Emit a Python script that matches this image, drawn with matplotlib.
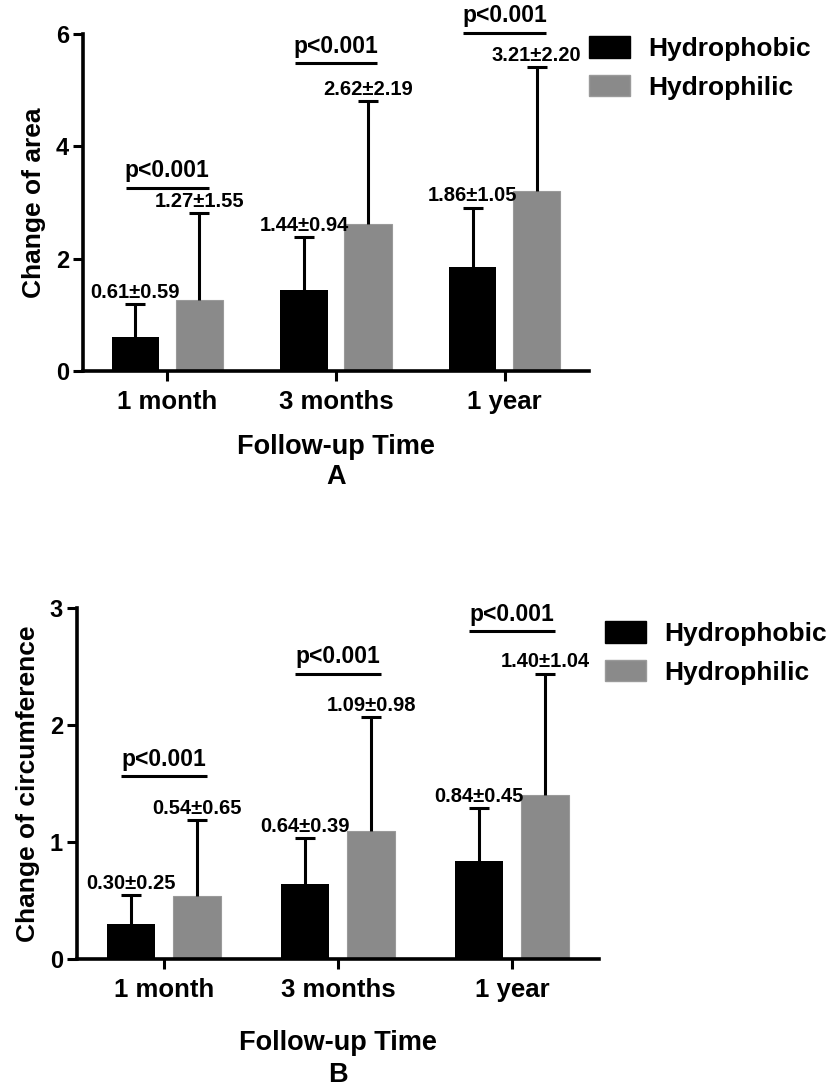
import matplotlib
matplotlib.use("Agg")
import matplotlib.pyplot as plt
from matplotlib.patches import Patch
import numpy as np

plt.rcParams['font.family'] = ['Liberation Sans', 'DejaVu Sans']
plt.rcParams['font.weight'] = 'bold'

categories = ["1 month", "3 months", "1 year"]
series_names = ["Hydrophobic", "Hydrophilic"]

area_phobic_mean = [0.61, 1.44, 1.86]
area_phobic_sd = [0.59, 0.94, 1.05]
area_philic_mean = [1.27, 2.62, 3.21]
area_philic_sd = [1.55, 2.19, 2.20]
area_p_text = ["p<0.001", "p<0.001", "p<0.001"]
area_p_level = [3.26, 5.48, 6.02]
area_yticks = [0, 2, 4, 6]

circ_phobic_mean = [0.30, 0.64, 0.84]
circ_phobic_sd = [0.25, 0.39, 0.45]
circ_philic_mean = [0.54, 1.09, 1.40]
circ_philic_sd = [0.65, 0.98, 1.04]
circ_p_text = ["p<0.001", "p<0.001", "p<0.001"]
circ_p_level = [1.56, 2.44, 2.80]
circ_yticks = [0, 1, 2, 3]

BLACK = "#000000"
GRAY = "#8a8a8a"

W, H = 836, 1086
fig = plt.figure(figsize=(W / 100, H / 100), dpi=100)


def px_axes(l, t, r, b):
    return fig.add_axes([l / W, 1 - b / H, (r - l) / W, (b - t) / H])


def draw_panel(ax, m1, s1, m2, s2, ptext, plevel, yticks, ylabel, panel, ylim, xpad, ls):
    x = np.arange(len(categories))
    bw = 0.28
    off = 0.19
    ax.bar(x - off, m1, bw, color=BLACK, zorder=2)
    ax.bar(x + off, m2, bw, color=GRAY, edgecolor="#9a9a9a", linewidth=0.8, zorder=2)
    for xs, m, s in ((x - off, m1, s1), (x + off, m2, s2)):
        eb = ax.errorbar(xs, m, yerr=[np.zeros(len(m)), s], fmt='none', ecolor='black',
                         elinewidth=2.2, capsize=7.5, capthick=2.2, zorder=3)
        caps = eb[1]
        if len(caps) == 2:
            caps[0].set_visible(False)
        for xi, mi, si in zip(xs, m, s):
            ax.annotate(f"{mi:.2f}±{si:.2f}", (xi, mi + si), xytext=(0, 1.5),
                        textcoords='offset points', ha='center', va='bottom',
                        fontsize=14.5, fontweight='bold', zorder=4)
    for xi, pt, pl in zip(x, ptext, plevel):
        ax.plot([xi - 0.245, xi + 0.245], [pl, pl], color='black', lw=2.2,
                clip_on=False, solid_capstyle='butt')
        ax.annotate(pt, (xi, pl), xytext=(0, 4), textcoords='offset points',
                    ha='center', va='bottom', fontsize=16.5, fontweight='bold',
                    annotation_clip=False)
    ax.set_xlim(-0.5, 2.5)
    ax.set_ylim(*ylim)
    ax.set_yticks(yticks)
    ax.set_xticks(x)
    ax.set_xticklabels(categories, fontsize=18.5, fontweight='bold')
    ax.tick_params(axis='y', labelsize=17, width=2.2, length=7, pad=3)
    ax.tick_params(axis='x', width=2.2, length=7, pad=7)
    for lab in ax.get_yticklabels():
        lab.set_fontweight('bold')
    for sp in ('top', 'right'):
        ax.spines[sp].set_visible(False)
    for sp in ('left', 'bottom'):
        ax.spines[sp].set_linewidth(2.6)
    ax.set_ylabel(ylabel, fontsize=19, fontweight='bold', labelpad=7)
    ax.set_xlabel("Follow-up Time\n" + panel, fontsize=19.5, fontweight='bold',
                  labelpad=xpad, linespacing=ls)


ax1 = px_axes(83, 34, 589, 371)
draw_panel(ax1, area_phobic_mean, area_phobic_sd, area_philic_mean, area_philic_sd,
           area_p_text, area_p_level, area_yticks, "Change of area", "A", (0, 6), 14, 1.2)

ax2 = px_axes(77, 608, 599, 959)
draw_panel(ax2, circ_phobic_mean, circ_phobic_sd, circ_philic_mean, circ_philic_sd,
           circ_p_text, circ_p_level, circ_yticks, "Change of circumference", "B", (0, 3), 20, 1.27)

handles = [Patch(facecolor=BLACK, edgecolor=BLACK), Patch(facecolor=GRAY, edgecolor="#9a9a9a")]
for (lx, ty) in ((584, 31), (600, 616)):
    fig.legend(handles, series_names, loc='upper left',
               bbox_to_anchor=(lx / W, 1 - ty / H), frameon=False,
               prop={'weight': 'bold', 'size': 19},
               handlelength=1.55, handleheight=0.9, handletextpad=0.7,
               labelspacing=0.5, borderpad=0.2, borderaxespad=0)

fig.savefig("out.png", dpi=100)
